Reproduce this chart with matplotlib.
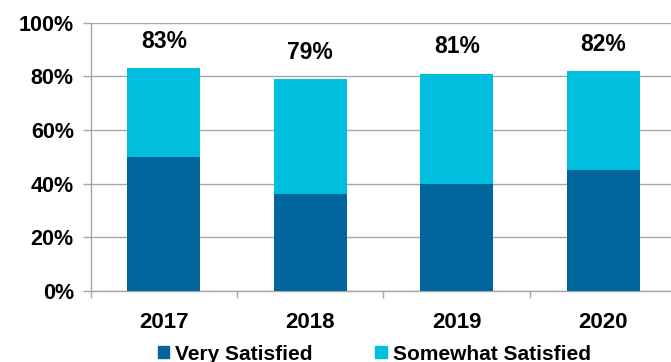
import matplotlib
matplotlib.use("Agg")
import matplotlib.pyplot as plt
from matplotlib.patches import Patch

# satisfaction survey, percent of respondents
years = ["2017", "2018", "2019", "2020"]
very_satisfied = [50, 36, 40, 45]
somewhat_satisfied = [33, 43, 41, 37]
total_labels = [83, 79, 81, 82]

dark_blue = "#02659B"
light_blue = "#00BFDE"
grid_gray = "#A6A6A6"

plt.rcParams["font.family"] = ["Liberation Sans", "DejaVu Sans"]
plt.rcParams["font.weight"] = "bold"

fig = plt.figure(figsize=(6.71, 3.62), dpi=100)
ax = fig.add_axes([90.5 / 671, 71 / 362, 586 / 671, 268.3 / 362])

x = list(range(len(years)))
ax.bar(x, very_satisfied, width=0.5, color=dark_blue, zorder=3)
ax.bar(x, somewhat_satisfied, width=0.5, bottom=very_satisfied,
       color=light_blue, zorder=3)

for xi, v, s, t in zip(x, very_satisfied, somewhat_satisfied, total_labels):
    ax.annotate(f"{t}%", (xi, v + s), xytext=(0, 11), textcoords="offset points",
                ha="center", va="bottom", fontsize=16.5, fontweight="bold")

ax.set_xlim(-0.5, 3.5)
ax.set_ylim(0, 100)
ax.set_yticks(range(0, 101, 20))
ax.set_yticklabels([f"{v}%" for v in range(0, 101, 20)])
ax.yaxis.grid(True, color=grid_gray, linewidth=1.0, zorder=0)
ax.set_axisbelow(True)

ax.set_xticks(x)
ax.set_xticklabels(years)
ax.set_xticks([-0.5, 0.5, 1.5, 2.5, 3.5], minor=True)
ax.tick_params(axis="x", which="major", length=0, pad=15, labelsize=16)
ax.tick_params(axis="x", which="minor", length=5, color=grid_gray, width=1)
ax.tick_params(axis="y", length=6, color=grid_gray, width=1, pad=6, labelsize=15.5)

for side in ["top", "right"]:
    ax.spines[side].set_visible(False)
for side in ["left", "bottom"]:
    ax.spines[side].set_color(grid_gray)
    ax.spines[side].set_linewidth(1)

handles = [Patch(color=dark_blue, label="Very Satisfied"),
           Patch(color=light_blue, label="Somewhat Satisfied")]
fig.legend(handles=handles, loc="center", bbox_to_anchor=(0.558, 8 / 362),
           ncol=2, frameon=False, handlelength=0.55,
           handleheight=0.55, handletextpad=0.3, columnspacing=3.0,
           prop={"weight": "bold", "size": 15})

fig.savefig("out.png", dpi=100)
